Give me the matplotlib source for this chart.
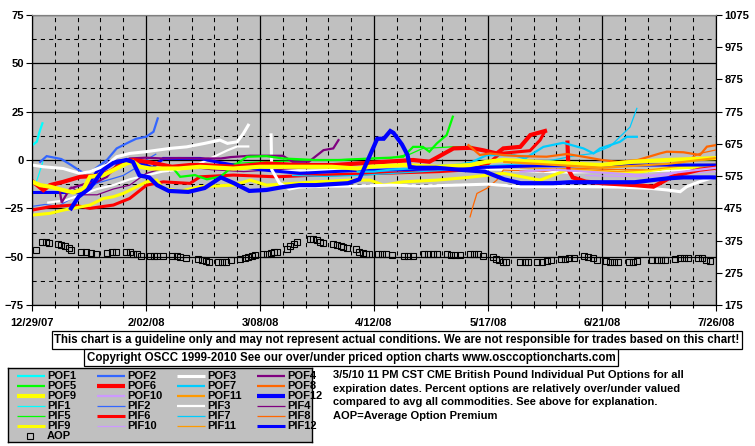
import numpy as np
import matplotlib
matplotlib.use("Agg")
import matplotlib.pyplot as plt

plt.rcParams["font.family"] = ["Liberation Sans", "DejaVu Sans"]
plt.rcParams["font.weight"] = "bold"
plt.rcParams["font.size"] = 8

nan = np.nan

# x axis: days since 12/29/07
date_ticks = [0, 35, 70, 105, 140, 175, 210]
date_labels = ["12/29/07", "2/02/08", "3/08/08", "4/12/08", "5/17/08", "6/21/08", "7/26/08"]
left_ticks = [-75, -50, -25, 0, 25, 50, 75]
right_ticks = [175, 275, 375, 475, 575, 675, 775, 875, 975, 1075]

# ---- series (day, percent over/under) ----
pof1_d = [0, 1.5, 2.2, 3.2]
pof1_v = [7.5, 9.5, 14, 19]
pif1_d = [0, 1, 2, 3.3]
pif1_v = [-12, -13, -8, -1]

pof2_d = [2.5, 4.5, 9, 12, 16, 19, 23, 26, 30, 32, 35, 37.3, 38.6]
pof2_v = [-1, 2, 0.5, -2.6, -7, -5, 0, 6, 9.4, 11, 12, 14.6, 21.5]
pif2_d = [0, 4, 8, 12, 16, 20, 24, 28, 32, 35, 38]
pif2_v = [-24, -23, -24, -20, -16, -12, -10, -8, -4, 0, 3]

pof3_d = [0, 3.5, 9.6, 14.8, 17.8, 23, 26, 30, 35, 42.4, 47.5, 53, 57.7, 60, 63, 64.9, 66.4, nan,
          73.4, 73.6, 76, 79, 82, 90, 100, 110, 120, 130, 140, 150, 160, 170, 180, 190, 195, 199, 201, 205, 210]
pof3_v = [-2.6, -3.5, -4.4, -7, -6, -2.6, 1.7, 3.4, 4.3, 6, 6.8, 8.6, 10.3, 8.6, 9.4, 13.7, 18, nan,
          13, -5, -12, -15, -14, -13.5, -13.5, -13, -13.5, -13, -12.5, -13.8, -13.8, -13.8, -14, -14.7, -15.5, -16.4, -13.8, -11.2, -8.6]
pif3_d = [5, 10, 15, 20, 25, 30, 35, 40, 45, 50, 55, 60, 63, 66.4, nan,
          74, 85, 95, 105, 115, 125, 135, 145, 155, 165, 175, 185, 195, 205, 210]
pif3_v = [-22, -21, -18, -15, -13, -10, -8, -6, -5, -3, 1, 5, 7, 7, nan,
          -5, -5.5, -5, -4.5, -5, -5.2, -4.8, -5, -6, -6.5, -6, -6, -5.5, -5, -4.5]

pof4_d = [8.6, 9.1, 11.7, 16, 20, 23, 26, 30, 35, 40, 45, 52, 58, 61, 67, 77, 80, 85, 89.5, 92.5, 94.1]
pof4_v = [-16.4, -22, -14.7, -12.5, -11.3, -8.7, -2.6, 0.8, 1.2, 0.8, 1, 0.8, 0.8, 1.5, 2.2, 2.2, -0.9, -0.9, 5.1, 6, 10.3]
pif4_d = [12, 16, 20, 25, 30, 35, 40, 48, 55, 65, 75, 85, 94]
pif4_v = [-14, -18, -18, -15, -13, -7, -4.4, -3.5, -5, -6, -5, -4, -2]

pof5_d = [43.4, 45.5, 50, 53.7, 57.8, 62, 66, 72, 77, 87, 95, 104, 110, 114, 117, 120, 122, 124.3, 127.3, 129.2]
pof5_v = [-4.4, -8.7, -7.8, -10, -8.6, -3, 1.7, 2, 0.8, 0, 0, 0.8, 1.2, 1.7, 6.8, 6.8, 4.3, 8.6, 12.9, 22.4]
pif5_d = [43, 50, 60, 70, 80, 90, 100, 110, 116, 120, 129, 135]
pif5_v = [-3.5, -4, -2, -1, -0.5, 0, 0.5, 1, 3, 6, 6.8, 7]

pof6_d = [0, 3.5, 5.5, 9.6, 14.8, 19.9, 24, 28, 31, 35, 38, 43, 48.5, 52, 62, 72, 82, 92.5, 100, 108, 117, 122,
          129.4, 134.5, 138.6, 142.7, 144.7, 149.9, 153, 157.5, nan,
          164.4, 164.7, 166, 170, 175, 180, 185, 190.8, 192.8, 196, 200, 205, 210]
pof6_v = [-10.9, -15.6, -13, -11.3, -8.7, -8.2, -6, -1.8, 0, -0.9, -1.8, -3.5, -2.6, -2.6, -3.5, -1.8, -2.6, -2.6, -1.8, -1, 0, -0.9,
          6, 6.3, 5, 3.4, 6, 6.8, 12.9, 15, nan,
          9, -5, -9, -11.2, -12, -12.5, -13, -13.8, -12, -9, -7, -5, -4]
pif6_d = [0, 5.5, 12.7, 17.8, 25, 30, 35.2, 40.3, 48.5, 51.6, 61.8, 75, 85, 95, 105, 115, 125, 135, 140, 143.7, 152.9, 156, 157.5]
pif6_v = [-25.9, -24.2, -23.3, -25, -23.3, -19.9, -13, -11.3, -12.1, -8.7, -7.8, -8.7, -8, -7.5, -7, -6.5, -6, -5, -2, 3.4, 4.8, 10.3, 15]

pof7_d = [100, 105, 110, 115, 120, 125, 130, 134.5, 139.6, 143.7, 148, 151.4, 157, 163.1, 169.3, 172.4, 174.4, 177.5, 180.5, 182.6, 185.7]
pof7_v = [-6, -6, -5, -4.5, -4, -3, -2.5, -1.5, 2.5, 2.5, 2.5, 0.8, 6.8, 8.9, 6, 3.4, 6, 7.7, 9.4, 12, 12]
pif7_d = [80, 90, 100, 110, 120, 130, 140, 150, 160, 166, 172.4, 177.5, 180.5, 183.6, 185.7]
pif7_v = [-8, -8.5, -8, -7, -6, -5, -3, -2, 0, 2, 3.4, 7, 12, 17, 26.7]

pof8_d = [134, 137.5, 140.6, 145, 150, 158, 164.2, 169.3, 175, 180, 186, 192.8, 194.9, 200, 205.1, 207.2, 210]
pof8_v = [7.7, 2.6, 3.4, 2.5, 2, 1.7, 3.1, 1.7, 0, -1, 0, 3.4, 4.3, 4, 2.6, 6.9, 7.7]
pif8_d = [134.5, 135.5, 136.6, 139.6, 142.7, 144.7, 150, 157, 164.2, 170, 180, 192.8, 200, 205, 210]
pif8_v = [-29.4, -23.3, -17.3, -14.7, -10.4, -5.2, -5.5, -6, -4.3, -4.5, -5, -5.2, -1, 3.4, 5.2]

pof9_d = [0, 2.5, 5.5, 9.6, 12.7, 15.8, 17.8, 21.9, 25, 29, 31, 33.2, 36.2, 45, 51.6, 61.8, 70, 82.3, 92, 99.8,
          103.8, 114, 124.3, 134.5, 139.6, 144.7, 154, 164.2, 174.4, 184.6, 195, 209.2, 210]
pof9_v = [-11.2, -13, -13.8, -15.6, -16.8, -15, -8.7, -7.8, -5.2, -1.8, -0.9, -3.5, -4.4, -4.4, -3.5, -4.4, -3.5, -3.5, -3.5, -4.4,
          -3.5, -2.6, -3.5, -2.6, -0.9, 0, -0.9, -1.7, -2.6, -0.9, 0, 0.9, 1]
pif9_d = [0, 5.5, 9.6, 12.7, 17.8, 21.9, 25, 28, 32.2, 35.2, 38.3, 40.3, 45.5, 51.6, 61.8, 67, 72, 80.3, 87.4, 97.7,
          103.8, 107.9, 114, 124.3, 134, 144.7, 156, 164.2, 175, 185, 195, 209.2, 210]
pif9_v = [-28.5, -27.6, -25.9, -25, -23.3, -19.9, -19, -17.3, -13.8, -11.3, -10.4, -14.7, -16.1, -13.8, -13, -10.4, -13, -12.1, -11.3, -10.4,
          -10.4, -13, -11.3, -10.4, -9, -6.9, -10.4, -5.2, -6, -6.5, -4.3, -3.4, -3.4]

pof10_d = [150, 160, 170, 180, 190, 200, 210]
pof10_v = [-6, -5, -6, -7, -8, -6, -4]
pif10_d = [170, 180, 190, 200, 210]
pif10_v = [-8, -8.5, -8.6, -7, -6]

pof11_d = [145, 155, 165, 175, 185, 195, 205, 210]
pof11_v = [-1, -2, -3, -4, -3, -2, 0, 1]
pif11_d = [150, 160, 170, 180, 190, 200, 210]
pif11_v = [-4, -4.5, -5, -6, -5, -3, -2]

pof12_d = [12, 14.3, 17.8, 21.9, 25, 29, 31, 33, 36, 38.4, 42, 48, 53, 58, 62, 66.7, 72, 77, 82, 87, 92, 97, 100.5,
           103.8, 106, 108, 110, 111, 113.6, 115.3, 116, 118, 124, 131, 139, 145, 150, 155, 160, 165, 170, 175,
           180, 185, 190, 195, 200, 205, 210]
pof12_v = [-25, -19, -14.5, -5, -1.5, 0, -1, -8, -9, -13, -16, -16.5, -14.5, -9, -12, -16, -15.5, -14, -13, -13, -12.5, -12, -10,
           2.6, 11, 11, 15, 14, 8, 2.6, -3.6, -4, -4, -5, -6, -10, -12, -12, -12, -11.5, -11.5, -11.5,
           -11.5, -11.5, -10.5, -9.5, -9, -9, -9]
pif12_d = [0, 9.6, 15.8, 19.9, 24, 31, 34, 37, 40.3, 48.5, 51.6, 56.7, 61.8, 70, 82.3, 92.5, 102.8, 115, 125, 135,
           144.7, 155, 165, 175, 185, 195, 209.2, 210]
pif12_v = [-16.8, -16.8, -16.8, -6, -0.9, 0, -2, -4, 0.8, 0.8, 0.8, -1, -2.6, -5, -6.9, -6, -5.2, -5, -4.5, -4,
           -3.5, -3, -3, -2.6, -2.6, -2.6, -2.6, -2.6]

# average option premium (right axis)
aop_d = [1.2, 3, 4.3, 5.3, 8, 9, 10, 11.4, 12, 15, 16.5, 18, 19.6, 23, 24.5, 25.8, 29, 30, 31, 32.3, 33.5,
         36.3, 37.5, 38.5, 40.3, 43, 44.4, 45.4, 47.3, 51, 52.3, 53.3, 54.4, 57.2, 58.3, 59.5, 61, 64, 65.4, 66.4,
         67.5, 68.5, 71, 72.2, 73.4, 74.4, 75.3, 78.2, 79.2, 80.4, 81.5, 85.4, 86.4, 87.5, 88.4, 89.3, 92.5, 93.7,
         94.8, 95.6, 96.6, 99.5, 100.5, 101.5, 102.6, 103.6, 106.3, 107.4, 108.7, 110.4, 114.2, 115.5, 117, 120.4,
         121.7, 123, 124.4, 127.3, 128.6, 130, 131.4, 134.5, 135.7, 136.8, 138.6, 141.5, 142.5, 143.5, 144.5, 145.5,
         149.8, 151.4, 152.4, 155.1, 156.5, 158, 159.3, 162.4, 163.6, 165, 166.4, 169.5, 170.8, 172.1, 173.4, 176.2,
         177.5, 178.7, 180, 183.3, 184.6, 185.8, 190.3, 191.8, 193.1, 194.4, 197.4, 198.8, 200.2, 201.5, 204.4,
         205.6, 207, 208.2]
aop_v = [346, 372, 369, 367, 363, 360, 357, 352, 346, 341, 338, 335, 333, 335, 338, 338, 338, 338, 334, 332, 328,
         328, 328, 326, 326, 326, 326, 324, 321, 319, 315, 312, 310, 310, 310, 310, 315, 319, 321, 324,
         328, 331, 334, 334, 336, 338, 341, 348, 357, 365, 372, 379, 379, 377, 372, 367, 363, 360,
         358, 355, 352, 348, 340, 335, 333, 333, 333, 333, 332, 330, 327, 327, 327, 332,
         332, 332, 332, 332, 330, 330, 330, 332, 332, 332, 327, 324, 319, 315, 310, 307,
         307, 307, 307, 307, 310, 312, 315, 317, 319, 321, 322, 326, 324, 321, 315, 313,
         310, 308, 307, 308, 310, 312, 315, 315, 315, 315, 319, 321, 322, 322, 322,
         321, 315, 312]

names = ["POF1", "POF2", "POF3", "POF4", "POF5", "POF6", "POF7", "POF8", "POF9", "POF10", "POF11", "POF12",
         "PIF1", "PIF2", "PIF3", "PIF4", "PIF5", "PIF6", "PIF7", "PIF8", "PIF9", "PIF10", "PIF11", "PIF12"]
days = [pof1_d, pof2_d, pof3_d, pof4_d, pof5_d, pof6_d, pof7_d, pof8_d, pof9_d, pof10_d, pof11_d, pof12_d,
        pif1_d, pif2_d, pif3_d, pif4_d, pif5_d, pif6_d, pif7_d, pif8_d, pif9_d, pif10_d, pif11_d, pif12_d]
vals = [pof1_v, pof2_v, pof3_v, pof4_v, pof5_v, pof6_v, pof7_v, pof8_v, pof9_v, pof10_v, pof11_v, pof12_v,
        pif1_v, pif2_v, pif3_v, pif4_v, pif5_v, pif6_v, pif7_v, pif8_v, pif9_v, pif10_v, pif11_v, pif12_v]
month_colors = ["#00FFFF", "#3366FF", "#FFFFFF", "#800080", "#00FF00", "#FF0000",
                "#00CCFF", "#FF6600", "#FFFF00", "#CC99FF", "#FF9900", "#0000FF"]
colors = month_colors + month_colors
widths = [1.6, 1.6, 2.2, 1.6, 1.6, 3.0, 1.6, 1.6, 3.0, 1.6, 1.6, 3.0,
          0.9, 0.9, 1.6, 0.9, 0.9, 2.2, 0.9, 0.9, 2.2, 0.9, 0.9, 2.2]

fig = plt.figure(figsize=(7.55, 4.46), dpi=100)
ax = fig.add_axes([32 / 755, 1 - 305 / 446, 684 / 755, 290 / 446])
ax.set_facecolor("#C0C0C0")
ax.set_axisbelow(True)

# draw PIF first so the POF lines sit on top
for i in list(range(12, 24)) + list(range(12)):
    ax.plot(days[i], vals[i], color=colors[i], lw=widths[i], solid_joinstyle="miter", zorder=3)

ax.set_xlim(0, 210)
ax.set_ylim(-75, 75)
ax.set_xticks(date_ticks)
ax.set_xticklabels(date_labels)
ax.set_xticks(np.arange(0, 211, 7), minor=True)
ax.set_yticks(left_ticks)
ax.set_yticks(np.arange(-62.5, 75, 25), minor=True)
ax.grid(which="major", color="black", lw=0.9, ls="-")
ax.grid(which="minor", color="black", lw=0.75, ls=(0, (4, 4)))
ax.tick_params(axis="x", which="major", length=4, width=0.8, pad=5)
ax.tick_params(axis="x", which="minor", length=2.5, width=0.8)
ax.tick_params(axis="y", which="major", length=4, width=0.8, pad=2)
ax.tick_params(axis="y", which="minor", length=0)
for s in ["left", "bottom", "right"]:
    ax.spines[s].set_color("black")
ax.spines["top"].set_color("#808080")

ax2 = ax.twinx()
ax2.set_ylim(175, 1075)
ax2.set_yticks(right_ticks)
ax2.tick_params(axis="y", length=4, width=0.8, pad=2)
ax2.plot(aop_d, aop_v, ls="none", marker="s", ms=4.6, mfc="none", mec="black", mew=0.8, zorder=4)
ax2.spines["top"].set_color("#808080")

# notice boxes
fig.text(397 / 755, 1 - 340 / 446,
         "This chart is a guideline only and may not represent actual conditions. We are not responsible for trades based on this chart!",
         ha="center", va="center", fontsize=8.3,
         bbox=dict(boxstyle="square,pad=0.22", facecolor="white", edgecolor="black", lw=0.9))
fig.text(351 / 755, 1 - 357.5 / 446,
         "Copyright OSCC 1999-2010 See our over/under priced option charts www.osccoptioncharts.com",
         ha="center", va="center", fontsize=8.3,
         bbox=dict(boxstyle="square,pad=0.22", facecolor="white", edgecolor="black", lw=0.9))

fig.text(333 / 755, 1 - 370 / 446,
         "3/5/10 11 PM CST CME British Pound Individual Put Options for all\n"
         "expiration dates. Percent options are relatively over/under valued\n"
         "compared to avg all commodities. See above for explanation.\n"
         "AOP=Average Option Premium",
         ha="left", va="top", linespacing=1.45)

# legend panel
lax = fig.add_axes([8 / 755, 1 - 442 / 446, 304 / 755, 74 / 446])
lax.set_xlim(0, 304)
lax.set_ylim(74, 0)
lax.set_facecolor("#C0C0C0")
lax.set_xticks([])
lax.set_yticks([])
for s in lax.spines.values():
    s.set_color("black")
    s.set_linewidth(1.0)
col_x = [9, 89, 169, 249]
for k in range(24):
    row, col = k // 4, k % 4
    y = 8 + 10 * row
    x0 = col_x[col]
    lax.plot([x0, x0 + 28], [y, y], color=colors[k], lw=widths[k], solid_capstyle="butt")
    lax.text(x0 + 30, y, names[k], ha="left", va="center")
lax.plot([22], [68], ls="none", marker="s", ms=4.6, mfc="none", mec="black", mew=0.8)
lax.text(39, 68, "AOP", ha="left", va="center")

fig.savefig("out.png", dpi=100)
